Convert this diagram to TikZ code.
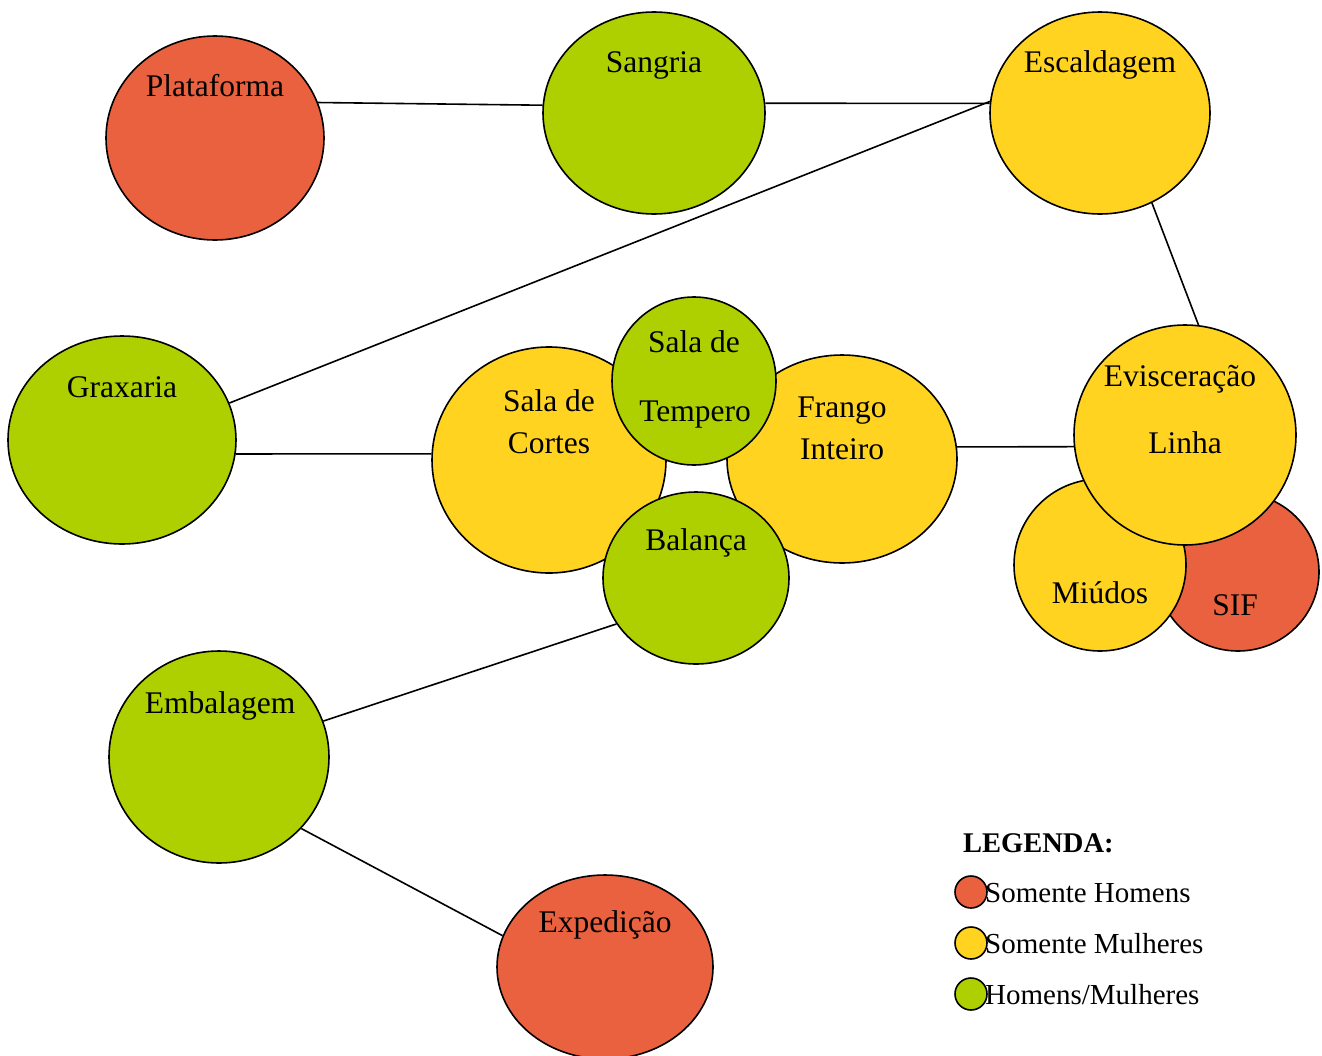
\documentclass[tikz,border=0pt]{standalone}
\usepackage{fontspec}
\setmainfont{Liberation Serif}
\usetikzlibrary{shapes.geometric}
\definecolor{cred}{HTML}{E9613F}
\definecolor{cyel}{HTML}{FFD320}
\definecolor{cgrn}{HTML}{AECF00}
\tikzset{
  area/.style={ellipse, draw=black, line width=1.6pt, inner sep=0pt},
  lbl/.style={anchor=base, inner sep=0pt, font=\fontsize{31.5}{36}\selectfont},
  conn/.style={draw=black, line width=1.6pt},
  legdot/.style={circle, draw=black, line width=1.6pt, minimum size=32pt, inner sep=0pt},
  legtxt/.style={anchor=base west, inner sep=0pt, font=\fontsize{29}{34}\selectfont},
}
\begin{document}
\begin{tikzpicture}[x=1pt,y=-1pt]
\clip (0,0) rectangle (1322,1055);
\fill[white] (0,0) rectangle (1322,1055);
% circles
\node[area, fill=cred, minimum width=218pt, minimum height=204pt] (plat) at (215,138) {};
\node[area, fill=cgrn, minimum width=222pt, minimum height=202pt] (sang) at (654,113) {};
\node[area, fill=cyel, minimum width=220pt, minimum height=202pt] (esca) at (1100,113) {};
\node[area, fill=cgrn, minimum width=228pt, minimum height=208pt] (grax) at (122,440) {};
\node[area, fill=cyel, minimum width=234pt, minimum height=226pt] (cort) at (549,460) {};
\node[area, fill=cyel, minimum width=230pt, minimum height=208pt] (fran) at (842,459) {};
\node[area, fill=cgrn, minimum width=164pt, minimum height=168pt] (temp) at (694,381) {};
\node[area, fill=cgrn, minimum width=186pt, minimum height=172pt] (bala) at (696,578) {};
\node[area, fill=cred, minimum width=162pt, minimum height=158pt] (sif) at (1238,572) {};
\node[area, fill=cyel, minimum width=172pt, minimum height=172pt] (miud) at (1100,565) {};
\node[area, fill=cyel, minimum width=222pt, minimum height=220pt] (evis) at (1185,435) {};
\node[area, fill=cgrn, minimum width=220pt, minimum height=212pt] (emba) at (219,757) {};
\node[area, fill=cred, minimum width=216pt, minimum height=184pt] (expe) at (605,967) {};
% connectors
\draw[conn] (plat.19) -- (sang.176);
\draw[conn] (sang.5) -- (esca.175);
\draw[conn] (esca.174) -- (grax.19);
\draw[conn] (esca.-60) -- (evis.83);
\draw[conn] (grax.-7) -- (cort.177);
\draw[conn] (fran.6.5) -- (evis.186);
\draw[conn] (bala.210) -- (emba.19.6);
\draw[conn] (emba.-41.6) -- (expe.163.5);
% labels
\node[lbl] (tplat) at (215,96) {Plataforma};
\node[lbl] (tsang) at (654,72) {Sangria};
\node[lbl] (tesca) at (1100,72) {Escaldagem};
\node[lbl] (tgrax) at (122,397) {Graxaria};
\node[lbl] (tcort1) at (549,411) {Sala de};
\node[lbl] (tcort2) at (549,453) {Cortes};
\node[lbl] (ttemp1) at (694,352) {Sala de};
\node[lbl] (ttemp2) at (695,421) {Tempero};
\node[lbl] (tfran1) at (842,417) {Frango};
\node[lbl] (tfran2) at (842,459) {Inteiro};
\node[lbl] (tbala) at (696,550) {Balança};
\node[lbl] (tevis1) at (1180,386) {Evisceração};
\node[lbl] (tevis2) at (1185,453) {Linha};
\node[lbl] (tmiud) at (1100,603) {Miúdos};
\node[lbl] (tsif) at (1235,615) {SIF};
\node[lbl] (temba) at (220,713) {Embalagem};
\node[lbl] (texpe) at (605,932) {Expedição};
% legend
\node[anchor=base west, inner sep=0pt, font=\bfseries\fontsize{28.5}{34}\selectfont] (leg) at (963,852) {LEGENDA:};
\node[legdot, fill=cred] (l1) at (971,892) {};
\node[legdot, fill=cyel] (l2) at (971,943) {};
\node[legdot, fill=cgrn] (l3) at (971,994) {};
\node[legtxt] (lt1) at (985,902) {Somente Homens};
\node[legtxt] (lt2) at (985,953) {Somente Mulheres};
\node[legtxt] (lt3) at (985,1004) {Homens/Mulheres};
\end{tikzpicture}
\end{document}
